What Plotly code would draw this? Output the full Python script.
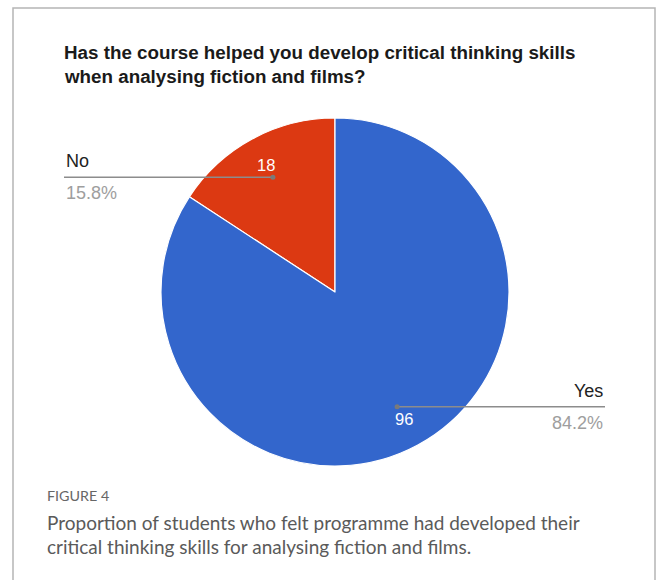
import math
import plotly.graph_objects as go

# Survey answers
labels = ["No", "Yes"]
counts = [18, 96]
colors = ["#dc3912", "#3366cc"]

title_lines = [
    "Has the course helped you develop critical thinking skills",
    "when analysing fiction and films?",
]
caption_head = "FIGURE 4"
caption_lines = [
    "Proportion of students who felt programme had developed their",
    "critical thinking skills for analysing fiction and films.",
]

W, H = 658, 580
CX, CY, R = 335, 292, 174          # pie centre and radius in pixels
LEFT_X, RIGHT_X = 64, 605          # ends of the leader lines

total = sum(counts)

fig = go.Figure()

# first slice ends at 12 o'clock, sitting just to its left
fig.add_trace(go.Pie(
    labels=labels,
    values=counts,
    sort=False,
    direction="clockwise",
    rotation=-360 * counts[0] / total,
    marker=dict(colors=colors, line=dict(color="white", width=1.2)),
    textinfo="none",
    hoverinfo="label+value+percent",
    showlegend=False,
    domain=dict(x=[(CX - R) / W, (CX + R) / W],
                y=[1 - (CY + R) / H, 1 - (CY - R) / H]),
))

# invisible pixel-space axes used for overlays
fig.update_layout(
    xaxis=dict(range=[0, W], visible=False, fixedrange=True),
    yaxis=dict(range=[H, 0], visible=False, fixedrange=True),
)

shapes = []
annotations = []

cum = 0
for lab, val in zip(labels, counts):
    mid = (cum + val / 2) / total
    cum += val
    theta = 2 * math.pi * mid          # measured anticlockwise from 12 o'clock
    sx, sy = -math.sin(theta), -math.cos(theta)
    dot_x, dot_y = CX + 0.75 * R * sx, CY + 0.75 * R * sy
    txt_x, txt_y = CX + 0.83 * R * sx, CY + 0.83 * R * sy

    # value inside the slice
    annotations.append(dict(
        x=txt_x, y=txt_y, xref="x", yref="y", text=str(val), showarrow=False,
        font=dict(family="Liberation Sans, Arial", size=16.5, color="white"),
    ))

    # leader line with dot
    end_x = LEFT_X if sx < 0 else RIGHT_X
    anchor = "left" if sx < 0 else "right"
    shapes.append(dict(type="line", xref="x", yref="y",
                       x0=dot_x, y0=dot_y, x1=end_x, y1=dot_y,
                       line=dict(color="#8c8c8c", width=1.5)))
    shapes.append(dict(type="circle", xref="x", yref="y",
                       x0=dot_x - 2.5, x1=dot_x + 2.5, y0=dot_y - 2.5, y1=dot_y + 2.5,
                       fillcolor="#7a7a7a", line=dict(width=0)))

    pct = f"{100 * val / total:.1f}%"
    annotations.append(dict(
        x=end_x, y=dot_y - 16, xref="x", yref="y", text=lab, showarrow=False,
        xanchor=anchor, yanchor="middle",
        font=dict(family="Liberation Sans, Arial", size=18, color="#222222"),
    ))
    annotations.append(dict(
        x=end_x, y=dot_y + 16, xref="x", yref="y", text=pct, showarrow=False,
        xanchor=anchor, yanchor="middle",
        font=dict(family="Liberation Sans, Arial", size=18, color="#9e9e9e"),
    ))

# chart title
for i, line in enumerate(title_lines):
    annotations.append(dict(
        x=62, y=52 + 24 * i, xref="x", yref="y", text=f"<b>{line}</b>",
        showarrow=False, xanchor="left", yanchor="middle",
        font=dict(family="Liberation Sans, Arial", size=18.8, color="#1a1a1a"),
    ))

# figure caption
annotations.append(dict(
    x=45, y=495, xref="x", yref="y", text=caption_head, showarrow=False,
    xanchor="left", yanchor="middle",
    font=dict(family="Lato", size=14.3, color="#666666"),
))
for i, line in enumerate(caption_lines):
    annotations.append(dict(
        x=45, y=522 + 24 * i, xref="x", yref="y", text=line, showarrow=False,
        xanchor="left", yanchor="middle",
        font=dict(family="Lato", size=19, color="#5a5a5a"),
    ))

# frame around the figure panel
shapes.append(dict(type="rect", xref="x", yref="y", x0=13, x1=655, y0=8, y1=H + 10,
                   line=dict(color="#b5b5b5", width=1.5), fillcolor="rgba(0,0,0,0)"))

fig.update_layout(
    width=W, height=H,
    margin=dict(l=0, r=0, t=0, b=0),
    paper_bgcolor="white", plot_bgcolor="white",
    shapes=shapes, annotations=annotations,
    showlegend=False,
)

fig.write_html("out.html")
